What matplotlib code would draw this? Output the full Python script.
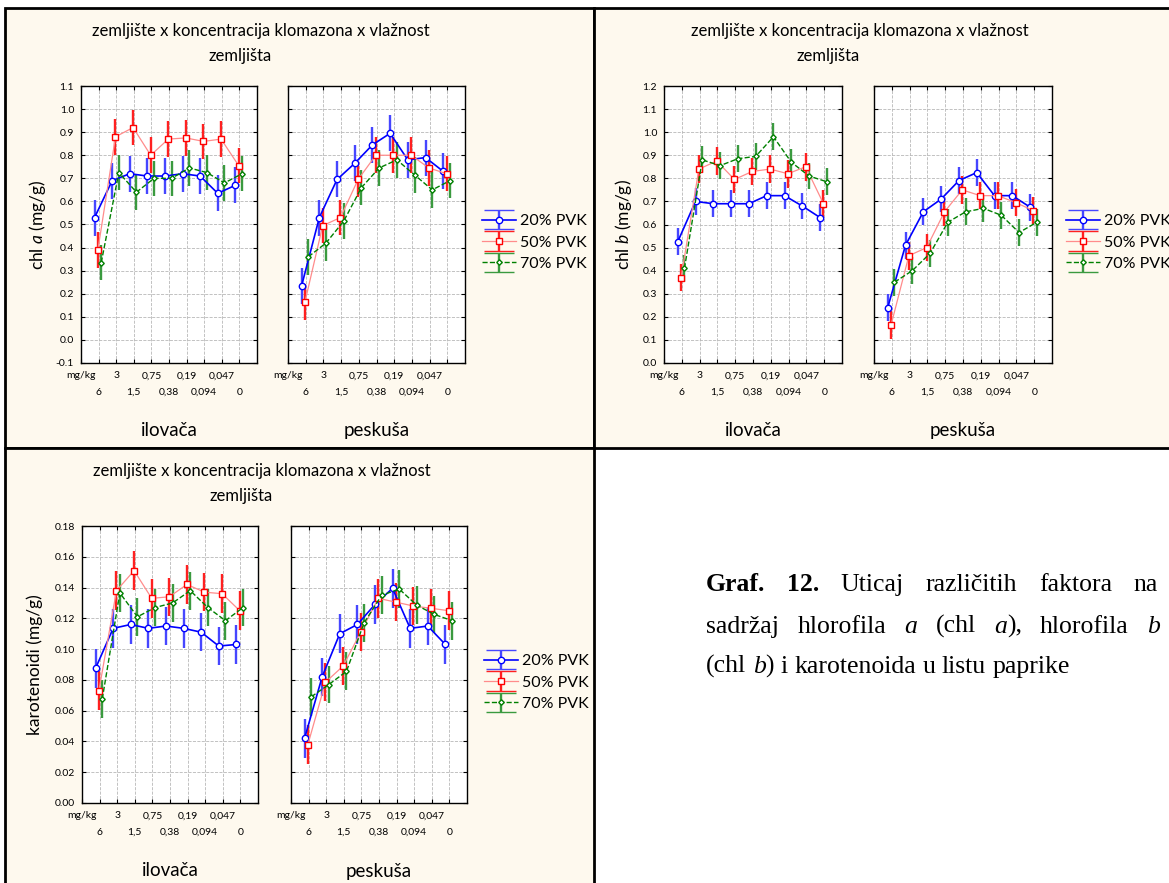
import matplotlib
matplotlib.use('Agg')
import matplotlib.pyplot as plt
import numpy as np
from matplotlib.patches import Rectangle
from matplotlib.transforms import IdentityTransform
from matplotlib.container import ErrorbarContainer
from matplotlib.legend_handler import HandlerErrorbar

plt.rcParams['font.family'] = ['Lato', 'DejaVu Sans']
plt.rcParams['mathtext.fontset'] = 'custom'
plt.rcParams['mathtext.rm'] = 'Lato'
plt.rcParams['mathtext.it'] = 'Lato:italic'

W, H = 1169, 883

# koncentracije klomazona (gornji i donji red oznaka)
konc_gornji = ['mg/kg', '3', '0,75', '0,19', '0,047']
konc_donji = ['6', '1,5', '0,38', '0,094', '0']
zemljista = ['ilovača', 'peskuša']
vlaznost = ['20% PVK', '50% PVK', '70% PVK']

# chl a (mg/g)
chla_ilovaca_20 = [0.53, 0.69, 0.72, 0.71, 0.71, 0.72, 0.71, 0.635, 0.67]
chla_ilovaca_50 = [0.39, 0.88, 0.92, 0.80, 0.87, 0.875, 0.86, 0.87, 0.755]
chla_ilovaca_70 = [0.335, 0.725, 0.64, 0.70, 0.70, 0.745, 0.725, 0.68, 0.72]
chla_peskusa_20 = [0.235, 0.53, 0.695, 0.765, 0.845, 0.895, 0.78, 0.79, 0.73]
chla_peskusa_50 = [0.165, 0.495, 0.53, 0.695, 0.80, 0.80, 0.80, 0.745, 0.72]
chla_peskusa_70 = [0.36, 0.42, 0.515, 0.66, 0.745, 0.78, 0.715, 0.65, 0.69]
chla_greska = [0.078, 0.077, 0.077]

# chl b (mg/g)
chlb_ilovaca_20 = [0.525, 0.70, 0.69, 0.69, 0.69, 0.725, 0.725, 0.68, 0.63]
chlb_ilovaca_50 = [0.37, 0.84, 0.875, 0.795, 0.83, 0.84, 0.82, 0.85, 0.69]
chlb_ilovaca_70 = [0.41, 0.88, 0.855, 0.885, 0.895, 0.98, 0.87, 0.81, 0.785]
chlb_peskusa_20 = [0.24, 0.51, 0.655, 0.71, 0.79, 0.825, 0.725, 0.725, 0.675]
chlb_peskusa_50 = [0.165, 0.465, 0.50, 0.655, 0.75, 0.725, 0.725, 0.695, 0.66]
chlb_peskusa_70 = [0.35, 0.40, 0.475, 0.61, 0.655, 0.67, 0.64, 0.565, 0.61]
chlb_greska = [0.058, 0.06, 0.058]

# karotenoidi (mg/g)
kar_ilovaca_20 = [0.0875, 0.1135, 0.116, 0.1135, 0.115, 0.1135, 0.111, 0.102, 0.103]
kar_ilovaca_50 = [0.073, 0.138, 0.151, 0.133, 0.134, 0.142, 0.137, 0.136, 0.125]
kar_ilovaca_70 = [0.0675, 0.1365, 0.121, 0.127, 0.13, 0.138, 0.127, 0.1185, 0.127]
kar_peskusa_20 = [0.042, 0.082, 0.11, 0.116, 0.129, 0.1395, 0.1135, 0.115, 0.103]
kar_peskusa_50 = [0.038, 0.0785, 0.089, 0.111, 0.133, 0.1305, 0.128, 0.1265, 0.125]
kar_peskusa_70 = [0.069, 0.077, 0.0855, 0.117, 0.135, 0.139, 0.1285, 0.1225, 0.1185]
kar_greska = [0.0125, 0.0125, 0.0123]

# stilovi serija
boje_linija = ['#0000FF', '#FF8C8C', '#008000']
boje_markera = ['#0000FF', '#FF0000', '#008000']
boje_gresaka = ['#4646FF', '#FF2020', '#3A9A3F']
markeri = ['o', 's', 'D']
velicine = [4.6, 5.0, 2.8]
linije = ['-', '-', '--']
debljine = [1.2, 0.9, 1.0]
pomaci = [-0.23, -0.04, 0.15]
KREM = '#FEF9EE'

fig = plt.figure(figsize=(W / 100, H / 100), dpi=100)
fig.patch.set_facecolor('white')


def fx(x):
    return x / W


def fy(y):
    return 1 - y / H


def okvir(x0, y0, x1, y1):
    fig.add_artist(Rectangle((fx(x0), fy(y1)), fx(x1) - fx(x0), fy(y0) - fy(y1),
                             transform=fig.transFigure, facecolor=KREM,
                             edgecolor='black', linewidth=2, zorder=0))


okvir(5, 8, 594, 448)
okvir(594, 8, 1180, 448)
okvir(5, 448, 594, 895)

x_kat = np.arange(1, 10)


def crtaj_panel(osi_x, y0, y1, ylabel, ylab_x, yticks, fmt, serije, greske, naslov_x, leg_x):
    y_top, y_bot = y0, y1
    for k, (x0, x1) in enumerate(osi_x):
        ax = fig.add_axes([fx(x0), fy(y_bot), fx(x1) - fx(x0), fy(y_top) - fy(y_bot)])
        ax.set_facecolor('white')
        for i in range(3):
            xs = x_kat + pomaci[i]
            ax.errorbar(xs, serije[k][i], yerr=greske[i], fmt='none',
                        ecolor=boje_gresaka[i], elinewidth=1.7, capsize=0, zorder=2)
            ax.plot(xs, serije[k][i], linestyle=linije[i], color=boje_linija[i],
                    lw=debljine[i], marker=markeri[i], ms=velicine[i],
                    mfc='white', mec=boje_markera[i], mew=1.0, zorder=3)
        ax.set_xlim(0, 10)
        ax.set_ylim(yticks[0], yticks[-1])
        ax.set_yticks(yticks)
        ax.set_xticks([0, 2, 4, 6, 8])
        ax.set_xticks([1, 3, 5, 7, 9], minor=True)
        ax.set_xticklabels(konc_gornji)
        ax.set_xticklabels(konc_donji, minor=True)
        if k == 0:
            ax.set_yticklabels([fmt % v for v in yticks])
        else:
            ax.set_yticklabels([])
        ax.tick_params(axis='both', which='both', direction='in', length=3, width=0.8,
                       top=True, right=True, labelsize=7.5, color='black')
        ax.tick_params(axis='x', which='major', pad=6)
        ax.tick_params(axis='x', which='minor', pad=18)
        ax.tick_params(axis='y', pad=5)
        ax.grid(True, which='both', linestyle='--', color='#b8b8b8', linewidth=0.6)
        for s in ax.spines.values():
            s.set_linewidth(1.0)
            s.set_color('black')
        ax.set_axisbelow(True)
        fig.text(fx((x0 + x1) / 2), fy(y_bot + 68), zemljista[k], ha='center', va='center',
                 fontsize=13.5)
        if k == 1:
            proksi = []
            for i in range(3):
                e = ax.errorbar([np.nan], [np.nan], yerr=[np.nan], linestyle=linije[i],
                                color=boje_linija[i], lw=debljine[i], marker=markeri[i],
                                ms=velicine[i], mfc='white', mec=boje_markera[i], mew=1.0,
                                ecolor=boje_gresaka[i], elinewidth=1.7, capsize=11, capthick=1.6)
                proksi.append(e)
            ax.legend(proksi, vlaznost, loc='upper left',
                      bbox_to_anchor=(fx(leg_x), fy(y_top + 128)),
                      bbox_transform=fig.transFigure, frameon=False, fontsize=11.5,
                      handlelength=2.1, handletextpad=0.25, labelspacing=0.45,
                      borderpad=0, borderaxespad=0,
                      handler_map={ErrorbarContainer: HandlerErrorbar(yerr_size=0.6)})
    fig.text(fx(ylab_x), fy((y_top + y_bot) / 2), ylabel, rotation=90, ha='center',
             va='center', fontsize=12.5)
    fig.text(fx(naslov_x[0]), fy(y_top - 55), 'zemljište x koncentracija klomazona x vlažnost',
             ha='center', va='center', fontsize=12)
    fig.text(fx(naslov_x[1]), fy(y_top - 30), 'zemljišta', ha='center', va='center', fontsize=12)


crtaj_panel([(81, 257), (288, 465)], 86, 363, 'chl $\\mathit{a}$ (mg/g)', 37,
            np.round(np.arange(-0.1, 1.1001, 0.1), 2), '%.1f',
            [[chla_ilovaca_20, chla_ilovaca_50, chla_ilovaca_70],
             [chla_peskusa_20, chla_peskusa_50, chla_peskusa_70]],
            chla_greska, (261, 240), 482)

crtaj_panel([(664, 842), (874, 1052)], 86, 363, 'chl $\\mathit{b}$ (mg/g)', 624,
            np.round(np.arange(0.0, 1.2001, 0.1), 2), '%.1f',
            [[chlb_ilovaca_20, chlb_ilovaca_50, chlb_ilovaca_70],
             [chlb_peskusa_20, chlb_peskusa_50, chlb_peskusa_70]],
            chlb_greska, (860, 828), 1066)

crtaj_panel([(82, 258), (291, 467)], 526, 803, 'karotenoidi (mg/g)', 35,
            np.round(np.arange(0.0, 0.18001, 0.02), 3), '%.2f',
            [[kar_ilovaca_20, kar_ilovaca_50, kar_ilovaca_70],
             [kar_peskusa_20, kar_peskusa_50, kar_peskusa_70]],
            kar_greska, (262, 241), 484)

# opis grafika (obostrano poravnat tekst)
N, B, I = ('normal', 'normal'), ('bold', 'normal'), ('normal', 'italic')
red1 = [[('Graf.', B)], [('12.', B)], [('Uticaj', N)], [('različitih', N)],
        [('faktora', N)], [('na', N)]]
red2 = [[('sadržaj', N)], [('hlorofila', N)], [('a', I)], [('(chl', N)],
        [('a', I), ('),', N)], [('hlorofila', N)], [('b', I)]]
red3 = [[('(chl', N)], [('b', I), (')', N)], [('i', N)], [('karotenoida', N)],
        [('u', N)], [('listu', N)], [('paprike', N)]]

rend = fig.canvas.get_renderer()


def red_teksta(rijeci, y, x_lijevo, x_desno=None):
    objekti, sirine = [], []
    for rijec in rijeci:
        dijelovi, s = [], 0
        for tekst, (tezina, stil) in rijec:
            t = fig.text(0, 0, tekst, transform=IdentityTransform(), fontsize=18.5,
                         family='Liberation Serif', fontweight=tezina, fontstyle=stil,
                         ha='left', va='baseline')
            w = t.get_window_extent(rend).width
            dijelovi.append((t, s))
            s += w
        objekti.append(dijelovi)
        sirine.append(s)
    if x_desno is None:
        razmak = 6.5
    else:
        razmak = (x_desno - x_lijevo - sum(sirine)) / (len(rijeci) - 1)
    x = x_lijevo
    for dijelovi, s in zip(objekti, sirine):
        for t, dx in dijelovi:
            t.set_position((x + dx, H - y))
        x += s + razmak


red_teksta(red1, 591, 706, 1158)
red_teksta(red2, 633, 706, 1160)
red_teksta(red3, 673, 706)

fig.savefig('out.png', dpi=100, facecolor='white')
